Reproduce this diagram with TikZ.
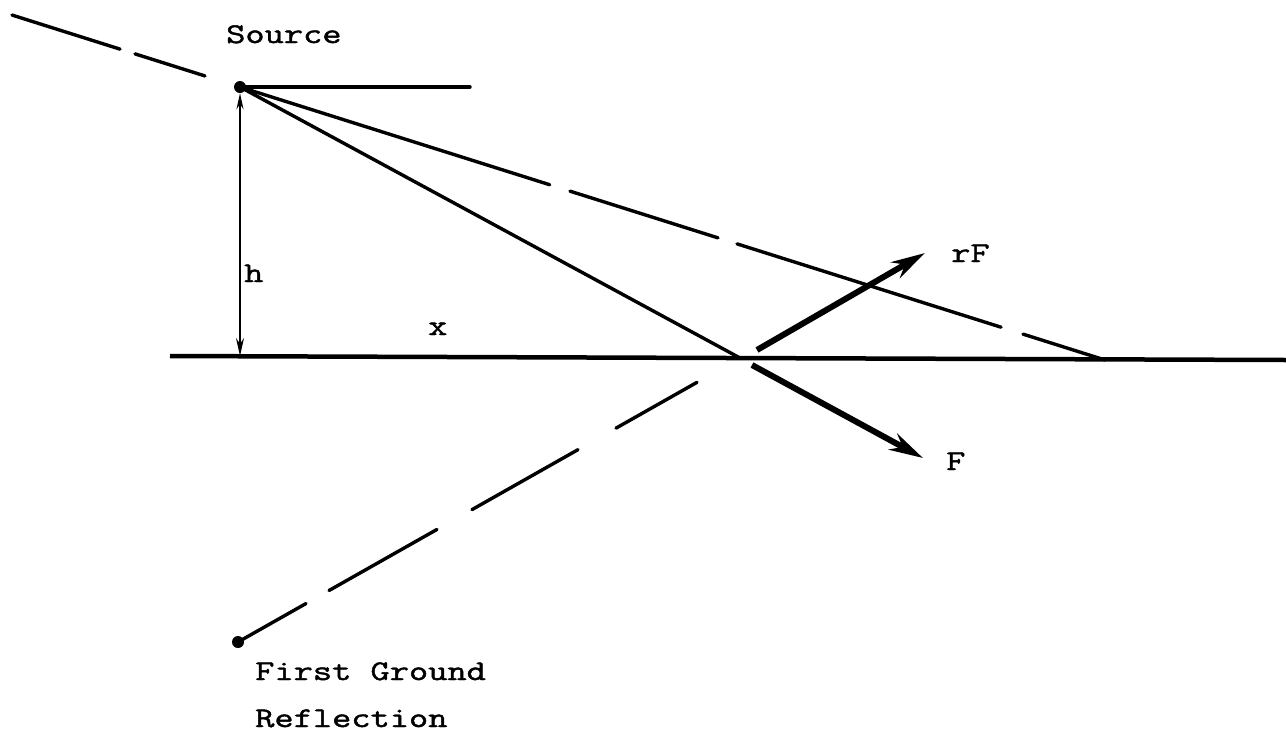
\documentclass[tikz,border=0pt]{standalone}
\usepackage{fontspec}
\usetikzlibrary{arrows.meta,calc}
\newfontfamily\tw[FakeStretch=1.31,FakeBold=1.6]{Latin Modern Mono}
\tikzset{
  lbl/.style={inner sep=0pt,anchor=base west,font=\tw\fontsize{28.5}{34}\selectfont},
  ray/.style={line width=3.4pt,line cap=round},
  ground/.style={line width=4.5pt},
  force/.style={line width=6pt,-{Stealth[length=34pt,width=18pt]}},
  dim/.style={line width=1.8pt,{Stealth[length=16pt,width=7pt]}-{Stealth[length=18pt,width=8pt]}},
  pt/.style={circle,fill=black,inner sep=0pt,minimum size=12pt}
}
\begin{document}
\begin{tikzpicture}[x=1pt,y=-1pt]
\path[use as bounding box] (0,0) rectangle (1286,737);
% key points
\node[pt] (S) at (240,87) {};
\node[pt] (I) at (238,642) {};
\coordinate (R) at (740,358);
\coordinate (G) at (1105,360);
\coordinate (GL) at (170,356);
\coordinate (GR) at (1286,360);
\coordinate (HE) at (470,87);
\coordinate (HB) at (240,356);
\coordinate (A1) at (757,350);
\coordinate (A2) at (925,253);
\coordinate (B1) at (752,365);
\coordinate (B2) at (923,458);
% ground
\draw[ground] (GL) -- (GR);
% horizontal from source
\draw[ray] (S.center) -- (HE);
% direct ray
\draw[ray] (S.center) -- (R);
% dashed ray through source to G (hand-made dashes)
\draw[ray] ($(S.center)!-0.2636!(G)$) -- ($(S.center)!-0.1387!(G)$);
\draw[ray] ($(S.center)!-0.1214!(G)$) -- ($(S.center)!-0.0405!(G)$);
\draw[ray] (S.center) -- ($(S.center)!0.358!(G)$);
\draw[ray] ($(S.center)!0.3815!(G)$) -- ($(S.center)!0.5526!(G)$);
\draw[ray] ($(S.center)!0.5746!(G)$) -- ($(S.center)!0.8798!(G)$);
\draw[ray] ($(S.center)!0.9052!(G)$) -- (G);
% dashed ray from image
\draw[ray] (I.center) -- ($(I.center)!0.1355!(R)$);
\draw[ray] ($(I.center)!0.1813!(R)$) -- ($(I.center)!0.3964!(R)$);
\draw[ray] ($(I.center)!0.4661!(R)$) -- ($(I.center)!0.6773!(R)$);
\draw[ray] ($(I.center)!0.7530!(R)$) -- ($(I.center)!0.9143!(R)$);
% height
\draw[dim] (S.south) -- (HB);
% forces
\draw[force] (A1) -- (A2);
\draw[force] (B1) -- (B2);
% labels
\node[lbl] (ls) at (226,43) {Source};
\node[lbl] (lh) at (244,282) {h};
\node[lbl] (lx) at (428,335) {x};
\node[lbl] (lrf) at (951,262) {rF};
\node[lbl] (lf) at (946,470) {F};
\node[lbl] (l1) at (255,680) {First Ground};
\node[lbl] (l2) at (255,727) {Reflection};
\end{tikzpicture}
\end{document}
